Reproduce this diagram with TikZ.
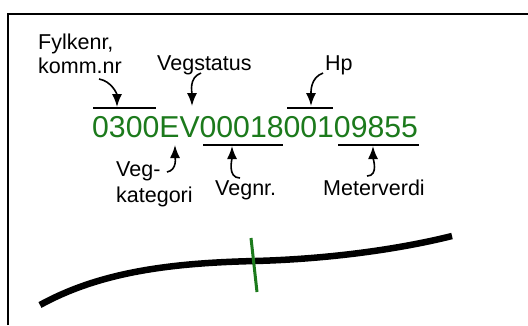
\documentclass[tikz,border=0pt]{standalone}
\usepackage{fontspec}
\setmainfont{Liberation Sans}
\usetikzlibrary{arrows.meta}
\definecolor{codegreen}{RGB}{28,122,28}
\tikzset{
  lbl/.style={anchor=base west, inner sep=0pt, font=\fontsize{21.5bp}{24bp}\selectfont},
  code/.style={anchor=base west, inner sep=0pt, text=codegreen, font=\fontsize{30.2bp}{34bp}\selectfont},
  bar/.style={line width=1.8bp},
  pointer/.style={line width=1.6bp, -{Latex[length=13bp,width=10bp]}},
}
\begin{document}
\begin{tikzpicture}[x=1bp,y=-1bp]
\useasboundingbox (0,0) rectangle (528,325);
\fill[white] (0,0) rectangle (528,325);
% frame (open at right and bottom)
\draw[line width=1.8bp] (8,325) -- (8,14) -- (528,14);

% code
\node[code] (code) at (92,137) {0300EV0001800109855};

% labels
\node[lbl] (fylke) at (38,49) {Fylkenr,};
\node[lbl] (komm) at (38,73) {komm.nr};
\node[lbl] (status) at (157,70) {Vegstatus};
\node[lbl] (hp) at (325,70) {Hp};
\node[lbl] (veg) at (116,176) {Veg-};
\node[lbl] (kat) at (116,202) {kategori};
\node[lbl] (vegnr) at (215,195) {Vegnr.};
\node[lbl] (meter) at (323,195) {Meterverdi};

% over/under lines
\draw[bar] (93,108) -- (156,108);
\draw[bar] (287,108) -- (333,108);
\draw[bar] (203,145) -- (283,145);
\draw[bar] (338,145) -- (419,145);

% arrow ends
\coordinate (t1) at (99,79);   \coordinate (h1) at (117,107);
\coordinate (t2) at (201,73);  \coordinate (h2) at (192,106);
\coordinate (t3) at (323,73);  \coordinate (h3) at (311,106);
\coordinate (t4) at (167,172); \coordinate (h4) at (175,145);
\coordinate (t5) at (240,178); \coordinate (h5) at (232,146);
\coordinate (t6) at (367,176); \coordinate (h6) at (373,146);

\draw[pointer] (t1) to[out=-10,in=90] (h1);
\draw[pointer] (t2) to[out=200,in=90] (h2);
\draw[pointer] (t3) to[out=200,in=90] (h3);
\draw[pointer] (t4) to[out=10,in=-90] (h4);
\draw[pointer] (t5) to[out=180,in=-90] (h5);
\draw[pointer] (t6) to[out=0,in=-90] (h6);

% road
\coordinate (r0) at (40,305);
\coordinate (r1) at (255,261);
\coordinate (r2) at (452,236);
\draw[line width=6.5bp] (r0) .. controls (100,272) and (170,263) .. (r1)
  .. controls (330,259) and (400,249) .. (r2);
% marker
\coordinate (m0) at (251,238);
\coordinate (m1) at (257,292);
\draw[codegreen, line width=3bp] (m0) -- (m1);
\end{tikzpicture}
\end{document}
